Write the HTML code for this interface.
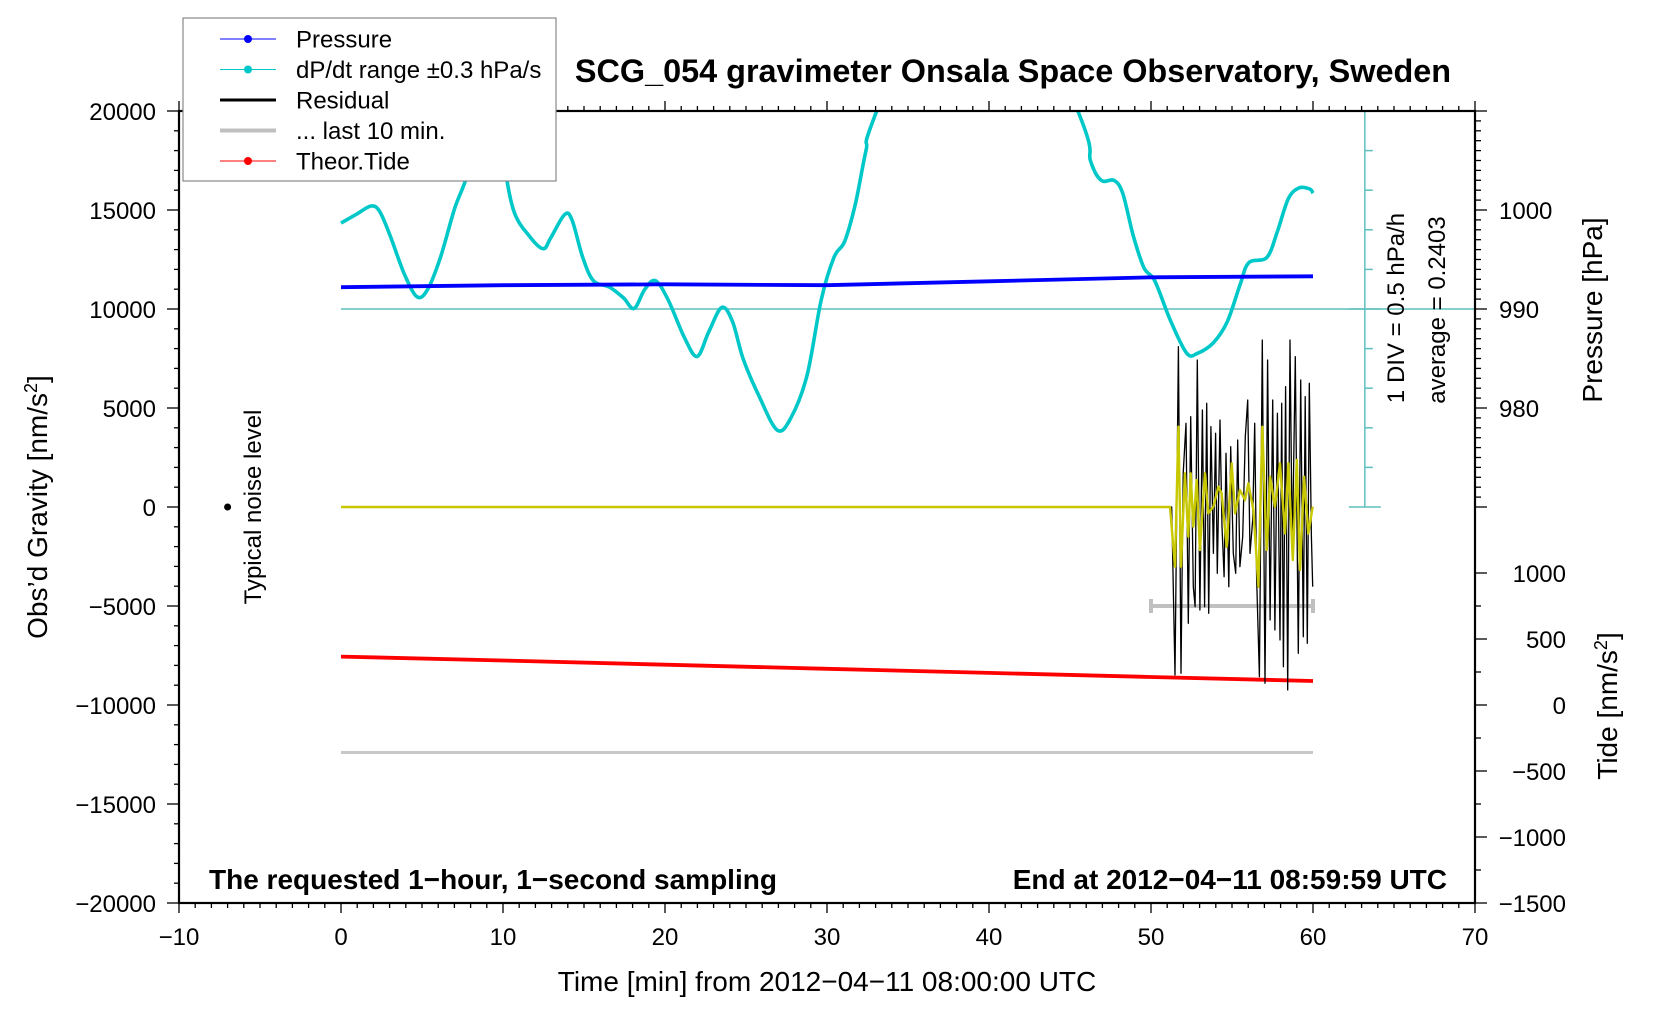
<!DOCTYPE html>
<html><head><meta charset="utf-8">
<style>
html,body{margin:0;padding:0;background:#fff;}
svg{display:block;font-family:"Liberation Sans",Arial,sans-serif;}
</style></head>
<body>
<svg id="chart" xmlns="http://www.w3.org/2000/svg" width="1676" height="1020" viewBox="0 0 1676 1020">
<defs><clipPath id="plotclip"><rect x="179" y="111" width="1296" height="792"/></clipPath></defs>
<rect x="0" y="0" width="1676" height="1020" fill="#fff"/>
<g id="marks" clip-path="url(#plotclip)"></g>
<g id="axes"></g>
<text x="1013" y="82" font-size="32.4" font-weight="bold" text-anchor="middle">SCG_054 gravimeter Onsala Space Observatory, Sweden</text>
<text x="209" y="889" font-size="28" font-weight="bold">The requested 1−hour, 1−second sampling</text>
<text x="1447" y="889" font-size="28" font-weight="bold" text-anchor="end">End at 2012−04−11 08:59:59 UTC</text>
<text x="827" y="991" font-size="28" text-anchor="middle">Time [min] from 2012−04−11 08:00:00 UTC</text>
<text transform="translate(47,507) rotate(-90)" font-size="28" text-anchor="middle">Obs’d Gravity [nm/s<tspan baseline-shift="super" font-size="18">2</tspan>]</text>
<text transform="translate(261,507) rotate(-90)" font-size="24" text-anchor="middle">Typical noise level</text>
<text transform="translate(1404,308) rotate(-90)" font-size="24" text-anchor="middle">1 DIV = 0.5 hPa/h</text>
<text transform="translate(1445,310) rotate(-90)" font-size="24" text-anchor="middle">average = 0.2403</text>
<text transform="translate(1602,310) rotate(-90)" font-size="28" text-anchor="middle">Pressure [hPa]</text>
<text transform="translate(1617,706) rotate(-90)" font-size="28" text-anchor="middle">Tide [nm/s<tspan baseline-shift="super" font-size="18">2</tspan>]</text>
<g id="legend">
<rect x="183" y="18" width="373" height="163" fill="#fff" stroke="#888" stroke-width="1.2"/>
</g>
</svg>
<script>
const minutes = [0,10,20,30,40,50,60];
const pressureHpa = [992.2,992.4,992.5,992.4,992.8,993.2,993.3];
const tideValues = [367,337,305,274,243,212,182];
const dpdtMin = [0,0.92,1.85,2.38,3.04,3.89,4.69,5.35,6.14,7.0,7.99,8.7,9.3,9.97,10.63,11.62,12.48,12.94,13.8,14.26,14.92,15.58,16.57,17.43,18.09,18.75,19.41,20.2,21.19,21.98,22.7,23.5,24.16,24.82,25.8,26.93,27.79,28.78,29.64,30.43,31.09,31.75,32.41,33.07,39,45.48,46.27,46.93,47.72,48.25,48.91,49.57,50.23,51.22,52.21,52.87,53.86,54.72,55.51,56.04,57.16,57.82,58.48,59.14,59.8,60];
const dpdtVal = [14337,14769,15200,14930,13690,11804,10618,10996,12613,15038,17464,22500,22500,18003,15038,13690,13044,13583,14769,14500,12613,11427,11104,10564,10025,10996,11427,10457,8571,7600,8840,10079,9379,7492,5606,3881,4528,6684,10457,12613,13421,15308,18003,19997,32000,20000,17464,16493,16493,15847,13690,12074,11427,9379,7762,7762,8301,9379,11265,12343,12613,13960,15577,16116,16062,15847];
const residMin = [0,51.28,51.48,51.69,51.85,51.99,52.16,52.30,52.45,52.61,52.72,52.86,53.02,53.17,53.31,53.44,53.56,53.70,53.85,53.99,54.09,54.26,54.38,54.51,54.63,54.80,54.92,55.08,55.23,55.35,55.49,55.66,55.82,55.97,56.11,56.28,56.40,56.52,56.69,56.87,57.04,57.20,57.35,57.51,57.65,57.80,57.96,58.07,58.17,58.31,58.44,58.58,58.72,58.91,59.09,59.24,59.40,59.52,59.65,59.77,59.90,59.98];
const residVal = [0,0,-8485,8097,-8401,1700,4225,-5876,4562,-4024,-5034,7424,-5202,4899,-5034,5235,-5371,4057,-2341,3720,-3351,4393,-994,-3519,2710,-4024,3047,-2341,-3351,3383,-3014,-1499,3552,5404,-2341,-657,4225,-3519,-8569,8434,-8906,7424,-5708,5404,-6213,4730,-6718,5235,-8064,6077,-9243,8434,-2341,7592,-7391,6414,-6549,5572,-6886,6246,-1499,-4024];
const filtMin = [0,51.17,51.48,51.69,51.85,52.09,52.30,52.45,52.61,52.82,53.02,53.33,53.54,53.85,54.16,54.36,54.67,54.98,55.19,55.49,55.80,56.01,56.32,56.63,56.87,57.14,57.35,57.65,57.96,58.27,58.48,58.75,59.00,59.20,59.45,59.71,59.98];
const filtVal = [0,0,-3014,4057,-3014,1700,-1499,1700,-994,1363,-2172,1700,-320,16,1026,690,-2004,2205,-320,858,353,1195,-152,-4024,4057,-2172,1531,16,2205,-1331,2205,-2677,2373,-3182,1531,-1331,16];
const lastTenMin = [0,60];
const lastTenVal = [-12400,-12400];
const barMin = [50,60];
const barVal = [-5000,-5000];
const xTicks = [-10,0,10,20,30,40,50,60,70];
const yTicks = [20000,15000,10000,5000,0,-5000,-10000,-15000,-20000];
const pTicks = [980,990,1000];
const tTicks = [1000,500,0,-500,-1000,-1500];

const NS='http://www.w3.org/2000/svg';
function X(m){return 341+m*16.2;}
function Y(g){return 507-g*0.0198;}
function P(h){return Y(10000+(h-990)*500);}
function T(t){return Y(-10000+t*6.6667);}
function mk(tag,attrs,parent){const e=document.createElementNS(NS,tag);for(const k in attrs)e.setAttribute(k,attrs[k]);parent.appendChild(e);return e;}
function pts(xs,ys,fy){return xs.map((m,i)=>X(m).toFixed(1)+','+fy(ys[i]).toFixed(1)).join(' ');}
function smooth(xs,ys,fy){
  const p=xs.map((m,i)=>[X(m),fy(ys[i])]);
  let d='M'+p[0][0].toFixed(1)+','+p[0][1].toFixed(1);
  for(let i=0;i<p.length-1;i++){
    const p0=p[Math.max(0,i-1)],p1=p[i],p2=p[i+1],p3=p[Math.min(p.length-1,i+2)];
    const c1=[p1[0]+(p2[0]-p0[0])/6,p1[1]+(p2[1]-p0[1])/6];
    const c2=[p2[0]-(p3[0]-p1[0])/6,p2[1]-(p3[1]-p1[1])/6];
    d+=' C'+c1[0].toFixed(1)+','+c1[1].toFixed(1)+' '+c2[0].toFixed(1)+','+c2[1].toFixed(1)+' '+p2[0].toFixed(1)+','+p2[1].toFixed(1);
  }
  return d;
}
const marks=document.getElementById('marks');
const axes=document.getElementById('axes');
const legend=document.getElementById('legend');

let e=mk('line',{x1:X(0),y1:Y(10000),x2:X(70),y2:Y(10000),stroke:'#5fbfbf','stroke-width':1.5},marks);


e=mk('path',{d:smooth(dpdtMin,dpdtVal,Y),fill:'none',stroke:'#00c8c8','stroke-width':3.6,'stroke-linejoin':'round'},marks);


e=mk('polyline',{points:pts(minutes,pressureHpa,P),fill:'none',stroke:'#0000ff','stroke-width':3.8},marks);


e=mk('polyline',{points:pts(lastTenMin,lastTenVal,Y),fill:'none',stroke:'#c8c8c8','stroke-width':3},marks);


e=mk('polyline',{points:pts(barMin,barVal,Y),fill:'none',stroke:'#c0c0c0','stroke-width':4},marks);


barMin.forEach((m,i)=>{const c=mk('line',{x1:X(m),y1:Y(barVal[i])-7,x2:X(m),y2:Y(barVal[i])+7,stroke:'#c0c0c0','stroke-width':4},marks);

});
e=mk('polyline',{points:pts(minutes,tideValues,T),fill:'none',stroke:'#ff0000','stroke-width':3.8},marks);


e=mk('polyline',{points:pts(residMin,residVal,Y),fill:'none',stroke:'#000','stroke-width':1.3,'stroke-linejoin':'round'},marks);


e=mk('polyline',{points:pts(filtMin,filtVal,Y),fill:'none',stroke:'#c8c800','stroke-width':2.4,'stroke-linejoin':'round'},marks);


e=mk('circle',{cx:X(-7),cy:Y(0),r:3.5,fill:'#000'},marks);



const sx=X(63.2);
e=mk('line',{x1:sx,y1:Y(0),x2:sx,y2:Y(20000),stroke:'#5fbfbf','stroke-width':1.5},axes);


for(let g=0;g<=20000;g+=2000){const big=(g===0||g===20000||g===10000);const l=mk('line',{x1:big?sx-16:sx,y1:Y(g),x2:sx+(big?16:8),y2:Y(g),stroke:'#5fbfbf','stroke-width':1.5},axes);

}

e=mk('rect',{x:179,y:111,width:1296,height:792,fill:'none',stroke:'#000','stroke-width':2.2},axes);


for(let m=-10;m<=70;m++){const major=m%10===0;
const t1=mk('line',{x1:X(m),y1:903,x2:X(m),y2:903+(major?10:5),stroke:'#000','stroke-width':1.3},axes);


const t2=mk('line',{x1:X(m),y1:111,x2:X(m),y2:111-(major?10:5),stroke:'#000','stroke-width':1.3},axes);

}
xTicks.forEach(v=>{const t=mk('text',{x:X(v),y:945,'font-size':24,'text-anchor':'middle'},axes);t.textContent=String(v).replace('-','−');

});
for(let g=-20000;g<=20000;g+=1000){const major=g%5000===0;
const t=mk('line',{x1:179,y1:Y(g),x2:179-(major?12:5),y2:Y(g),stroke:'#000','stroke-width':1.3},axes);

}
yTicks.forEach(v=>{const t=mk('text',{x:156,y:Y(v)+9,'font-size':24,'text-anchor':'end'},axes);t.textContent=String(v).replace('-','−');

});
for(let h=970;h<=1010;h++){const major=h%10===0;
const t=mk('line',{x1:1475,y1:P(h),x2:1475+(major?12:6),y2:P(h),stroke:'#000','stroke-width':1.3},axes);

}
pTicks.forEach(v=>{const t=mk('text',{x:1499,y:P(v)+9,'font-size':24},axes);t.textContent=v;

});
for(let tv=-1500;tv<=1000;tv+=250){const major=tv%500===0;
const t=mk('line',{x1:1475,y1:T(tv),x2:1475+(major?12:6),y2:T(tv),stroke:'#000','stroke-width':1.3},axes);

}
tTicks.forEach(v=>{const t=mk('text',{x:1566,y:T(v)+9,'font-size':24,'text-anchor':'end'},axes);t.textContent=String(v).replace('-','−');

});

const legNames=['Pressure','dP/dt range ±0.3 hPa/s','Residual','... last 10 min.','Theor.Tide'];
const legColors=['#0000ff','#00c8c8','#000','#c0c0c0','#ff0000'];
const legWidth=[1,1,3,4,1];
const legDot=[true,true,false,false,true];
legNames.forEach((n,i)=>{const y=39+i*30.5;
const g=mk('g',{},legend);


mk('line',{x1:220,y1:y,x2:276,y2:y,stroke:legColors[i],'stroke-width':legWidth[i]},g);
if(legDot[i])mk('circle',{cx:248,cy:y,r:4,fill:legColors[i]},g);
const t=mk('text',{x:296,y:y+8.5,'font-size':24},g);t.textContent=n;});
</script>
</body></html>
